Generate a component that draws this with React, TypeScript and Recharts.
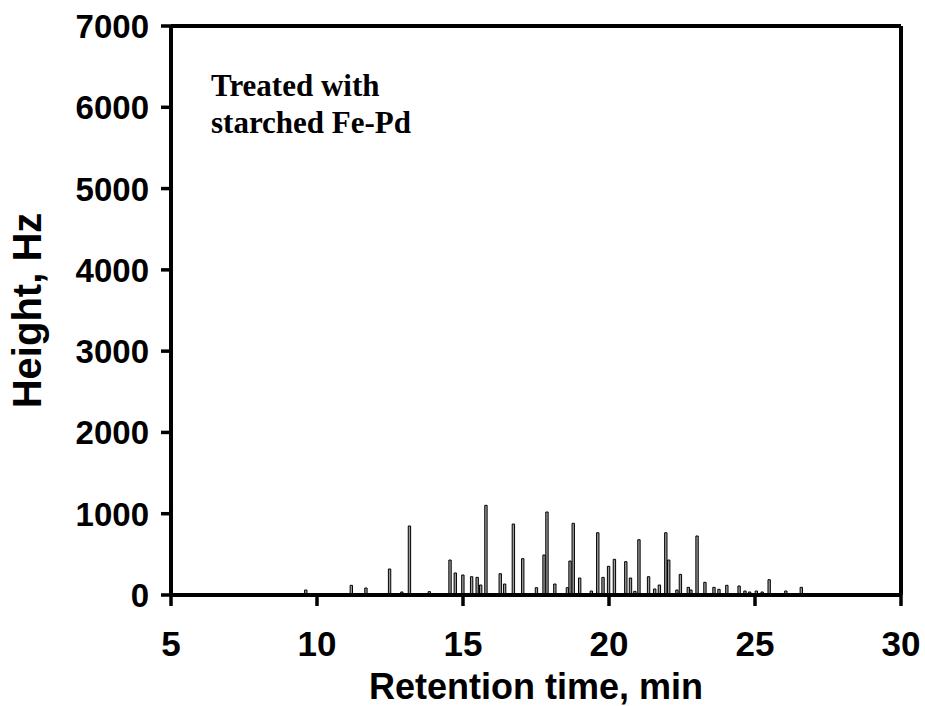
import {
  ComposedChart,
  Bar,
  XAxis,
  YAxis,
  ReferenceLine,
  Label,
  Customized,
} from 'recharts';

// peak retention times (min) and heights (Hz)
const retentionTimes = [
  9.62, 11.18, 11.68, 12.49, 12.91, 13.17, 13.85, 14.56, 14.74, 15.0,
  15.3, 15.49, 15.61, 15.79, 16.28, 16.43, 16.73, 17.05, 17.52, 17.78,
  17.88, 18.15, 18.58, 18.67, 18.78, 19.0, 19.4, 19.62, 19.8, 19.99,
  20.19, 20.58, 20.74, 20.89, 21.03, 21.36, 21.57, 21.73, 21.95, 22.05,
  22.33, 22.45, 22.72, 22.81, 23.02, 23.29, 23.6, 23.77, 24.04, 24.46,
  24.66, 24.82, 25.05, 25.25, 25.49, 26.06, 26.59,
];
const peakHeights = [
  61, 119, 86, 320, 37, 849, 41, 430, 271, 246,
  225, 217, 123, 1103, 262, 135, 873, 447, 90, 492,
  1021, 135, 90, 418, 882, 209, 49, 766, 217, 353,
  439, 410, 209, 45, 680, 225, 74, 123, 766, 430,
  61, 254, 94, 61, 726, 156, 94, 70, 119, 111,
  49, 37, 49, 37, 188, 49, 94,
];
const xTicks = [5, 10, 15, 20, 25, 30];
const yTicks = [0, 1000, 2000, 3000, 4000, 5000, 6000, 7000];
const noteLines = ['Treated with', 'starched Fe-Pd'];

const data = retentionTimes.map((t, i) => ({ time: t, height: peakHeights[i] }));

const sans = '"Liberation Sans", Arial, sans-serif';

const XTick = ({ x, y, payload }: any) => (
  <text x={x} y={y} dy={50} textAnchor="middle" fontFamily={sans} fontWeight="bold" fontSize={35} fill="#000">
    {payload.value}
  </text>
);

const YTick = ({ x, y, payload }: any) => (
  <text x={x} y={y} dy={12} textAnchor="end" fontFamily={sans} fontWeight="bold" fontSize={33} fill="#000">
    {payload.value}
  </text>
);

const Note = () => (
  <text fontFamily='"Liberation Serif", "Times New Roman", serif' fontWeight="bold" fontSize={31} fill="#000">
    {noteLines.map((line, i) => (
      <tspan key={line} x={211} y={96 + i * 37}>
        {line}
      </tspan>
    ))}
  </text>
);

export default function App() {
  return (
    <div style={{ position: 'absolute', left: 0, top: 0, background: '#fff' }}>
      <ComposedChart
        width={925}
        height={706}
        data={data}
        margin={{ top: 26, right: 24, bottom: 0, left: 0 }}
      >
        <XAxis
          dataKey="time"
          type="number"
          domain={[5, 30]}
          ticks={xTicks}
          allowDataOverflow
          height={111}
          axisLine={{ stroke: '#000', strokeWidth: 4 }}
          tickLine={{ stroke: '#000', strokeWidth: 3.5 }}
          tickSize={11}
          tickMargin={0}
          tick={<XTick />}
        >
          <Label
            content={({ viewBox }: any) => (
              <text
                x={viewBox.x + viewBox.width / 2}
                y={viewBox.y + 104}
                textAnchor="middle"
                fontFamily={sans}
                fontWeight="bold"
                fontSize={36}
                fill="#000"
              >
                Retention time, min
              </text>
            )}
          />
        </XAxis>
        <YAxis
          type="number"
          domain={[0, 7000]}
          ticks={yTicks}
          allowDataOverflow
          width={171}
          axisLine={{ stroke: '#000', strokeWidth: 4 }}
          tickLine={{ stroke: '#000', strokeWidth: 3.5 }}
          tickSize={10}
          tickMargin={12}
          tick={<YTick />}
        >
          <Label
            content={({ viewBox }: any) => {
              const cx = 41;
              const cy = viewBox.y + viewBox.height / 2;
              return (
                <text
                  x={cx}
                  y={cy}
                  transform={`rotate(-90 ${cx} ${cy})`}
                  textAnchor="middle"
                  fontFamily={sans}
                  fontWeight="bold"
                  fontSize={40}
                  fill="#000"
                >
                  Height, Hz
                </text>
              );
            }}
          />
        </YAxis>
        <ReferenceLine y={7000} stroke="#000" strokeWidth={4} />
        <ReferenceLine x={30} stroke="#000" strokeWidth={4} />
        <Bar
          dataKey="height"
          barSize={3}
          fill="#9a9a9a"
          stroke="#000"
          strokeWidth={1}
          isAnimationActive={false}
        />
        <Customized component={Note} />
      </ComposedChart>
    </div>
  );
}
